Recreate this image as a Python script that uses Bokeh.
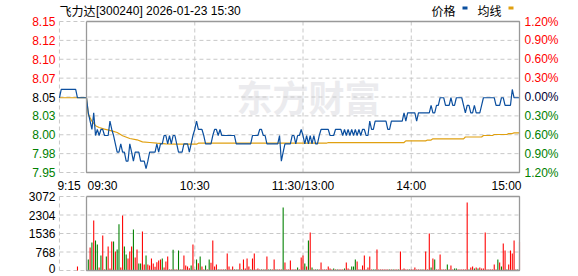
from bokeh.plotting import figure
from bokeh.models import Range1d
from bokeh.embed import file_html
from bokeh.resources import INLINE
from bokeh.core.properties import value

# ---------------- data ----------------
title_name = "飞力达"
title_rest = "[300240] 2026-01-23 15:30"
legend_labels = ["价格", "均线"]
watermark = "东方财富"

price_ticks = [8.15, 8.125, 8.10, 8.075, 8.05, 8.025, 8.00, 7.975, 7.95]
price_tick_labels = ["8.15", "8.12", "8.10", "8.07", "8.05", "8.03", "8.00", "7.98", "7.95"]
pct_tick_labels = ["1.20%", "0.90%", "0.60%", "0.30%", "0.00%", "0.30%", "0.60%", "0.90%", "1.20%"]
prev_close = 8.05

time_ticks = [-15, 0, 60, 120, 180, 240]
time_labels = ["9:15", "09:30", "10:30", "11:30/13:00", "14:00", "15:00"]

vol_ticks = [0, 768, 1536, 2304, 3072]
vol_tick_labels = ["0", "768", "1536", "2304", "3072"]

# call auction (9:15-9:30)
pre_minutes = [-15, -14, -6, -5, 0]
pre_prices = [8.049, 8.060, 8.060, 8.049, 8.049]
pre_avg_minutes = [-15, 0]
pre_avg = [8.049, 8.049]

# minute prices 09:30 (0) .. 15:00 (240)
price = [
    8.049, 8.029, 8.018, 8.007, 8.029, 7.999, 8.007, 7.999, 8.007, 8.007,
    7.999, 7.999, 7.999, 8.018, 8.007, 7.999, 7.988, 7.977, 7.977, 7.988,
    7.977, 7.977, 7.965, 7.965, 7.988, 7.977, 7.965, 7.977, 7.977, 7.977,
    7.965, 7.965, 7.965, 7.955, 7.965, 7.977, 7.977, 7.977, 7.977, 7.988,
    7.977, 7.988, 7.988, 7.999, 7.999, 7.988, 7.999, 7.988, 7.999, 7.999,
    7.988, 7.977, 7.977, 7.977, 7.988, 7.988, 7.988, 7.977, 7.988, 7.999,
    8.007, 8.018, 8.007, 8.007, 8.007, 7.999, 7.988, 7.988, 7.988, 7.988,
    7.999, 8.007, 8.007, 7.999, 8.007, 7.999, 7.999, 7.999, 7.999, 7.999,
    7.999, 7.999, 7.999, 7.988, 7.988, 7.988, 7.988, 7.988, 7.988, 7.988,
    7.988, 7.988, 7.999, 7.999, 7.999, 7.999, 8.007, 8.007, 7.999, 7.999,
    7.988, 7.988, 7.988, 7.988, 7.988, 7.988, 7.988, 7.999, 7.965, 7.977,
    7.988, 7.988, 7.988, 7.988, 7.999, 7.999, 7.988, 7.999, 7.999, 8.007,
    7.999, 7.988, 7.999, 7.988, 7.999, 7.988, 7.999, 7.988, 7.988, 7.999,
    8.007, 8.007, 8.007, 8.007, 8.007, 7.999, 7.999, 7.999, 8.007, 8.007,
    8.007, 8.007, 7.999, 8.007, 7.999, 8.007, 7.999, 8.007, 7.999, 8.007,
    7.999, 8.007, 7.999, 8.007, 8.007, 7.999, 7.999, 8.018, 8.007, 8.007,
    8.018, 8.018, 8.018, 8.018, 8.018, 8.018, 8.018, 8.007, 8.007, 8.018,
    8.018, 8.018, 8.018, 8.018, 8.018, 8.018, 8.029, 8.018, 8.029, 8.029,
    8.029, 8.029, 8.029, 8.018, 8.029, 8.029, 8.029, 8.029, 8.029, 8.029,
    8.029, 8.039, 8.029, 8.029, 8.039, 8.039, 8.049, 8.049, 8.049, 8.039,
    8.039, 8.039, 8.049, 8.039, 8.039, 8.049, 8.049, 8.049, 8.049, 8.039,
    8.029, 8.039, 8.039, 8.029, 8.029, 8.039, 8.029, 8.029, 8.029, 8.039,
    8.049, 8.049, 8.049, 8.049, 8.049, 8.049, 8.049, 8.039, 8.039, 8.039,
    8.049, 8.049, 8.039, 8.039, 8.039, 8.039, 8.060, 8.049, 8.049, 8.049,
    8.049,
]
price_minutes = list(range(0, 241))

# average price line (read at its turning points)
avg_minutes = [0, 1, 3, 5, 7, 10, 14, 17, 20, 24, 28, 31, 35, 39, 44, 50,
               61, 62, 133, 134, 176, 177, 188, 189, 191, 192, 209, 210,
               219, 220, 225, 226, 233, 234, 236, 237, 240]
avg_values = [8.049, 8.027, 8.018, 8.012, 8.0096, 8.0074, 8.0052, 8.003,
              7.9986, 7.995, 7.9933, 7.9906, 7.9897, 7.9888, 7.988, 7.9875,
              7.9875, 7.9888, 7.9888, 7.9897, 7.9897, 7.9919, 7.9919, 7.993,
              7.993, 7.9946, 7.9946, 7.997, 7.997, 7.999, 7.999, 8.0003,
              8.0003, 8.0016, 8.0016, 8.0025, 8.0025]

# volumes: auction bar and minute bars 1..240 (1 = up/red, 0 = down/green)
pre_vol_minutes = [-5]
pre_vol = [166]
pre_vol_up = [1]
vol_minutes = list(range(1, 241))
vol = [
    457, 955, 1163, 2076, 1246, 1080, 125, 623, 1453, 42,
    581, 997, 83, 1204, 1204, 789, 872, 1924, 125, 2284,
    997, 664, 498, 789, 997, 1702, 540, 872, 291, 291,
    1619, 249, 623, 249, 208, 498, 291, 152, 346, 415,
    457, 498, 125, 374, 581, 42, 42, 858, 42, 42,
    830, 42, 42, 623, 208, 166, 97, 208, 1080, 42,
    457, 304, 581, 166, 42, 208, 42, 457, 318, 1246,
    166, 249, 42, 42, 42, 42, 42, 706, 166, 42,
    166, 42, 42, 42, 291, 42, 457, 83, 498, 166,
    42, 498, 706, 42, 83, 42, 42, 42, 42, 581,
    42, 42, 42, 457, 42, 42, 42, 42, 2616, 332,
    42, 42, 415, 42, 42, 42, 125, 42, 540, 623,
    291, 166, 1246, 1578, 125, 42, 42, 42, 42, 332,
    42, 42, 42, 166, 83, 42, 83, 42, 42, 42,
    42, 42, 83, 332, 83, 42, 166, 166, 457, 374,
    42, 42, 208, 623, 42, 125, 581, 42, 42, 42,
    872, 42, 42, 42, 42, 42, 42, 42, 42, 42,
    42, 42, 42, 789, 42, 83, 42, 42, 42, 42,
    42, 125, 42, 42, 42, 42, 42, 789, 42, 1536,
    125, 498, 457, 42, 42, 664, 42, 42, 42, 249,
    42, 208, 42, 83, 83, 42, 42, 42, 42, 42,
    2823, 42, 125, 166, 83, 125, 83, 125, 83, 83,
    1578, 42, 42, 42, 42, 249, 42, 457, 332, 166,
    1121, 830, 42, 249, 830, 706, 1246, 42, 42, 1204,
]
vol_up = [
    0, 1, 0, 1, 0, 0, 1, 0, 1, 1,
    0, 1, 1, 1, 0, 1, 0, 0, 1, 1,
    0, 0, 1, 1, 1, 0, 1, 1, 0, 0,
    1, 1, 0, 1, 1, 1, 1, 1, 1, 1,
    1, 0, 1, 1, 1, 0, 1, 0, 1, 1,
    0, 1, 0, 1, 1, 1, 1, 0, 1, 1,
    0, 1, 0, 1, 1, 0, 1, 0, 1, 1,
    1, 1, 0, 1, 1, 1, 0, 1, 1, 1,
    1, 0, 1, 0, 1, 0, 1, 1, 1, 1,
    0, 1, 1, 1, 1, 1, 0, 1, 0, 1,
    0, 0, 1, 1, 0, 1, 1, 1, 0, 1,
    1, 1, 1, 1, 1, 1, 0, 1, 1, 1,
    0, 1, 0, 1, 0, 1, 0, 0, 1, 1,
    1, 1, 1, 1, 1, 1, 0, 1, 0, 1,
    1, 1, 0, 1, 1, 1, 0, 0, 0, 1,
    1, 1, 1, 1, 1, 1, 1, 1, 0, 0,
    1, 1, 1, 1, 1, 1, 1, 0, 1, 0,
    1, 1, 0, 1, 1, 1, 1, 1, 0, 1,
    1, 1, 1, 1, 1, 0, 1, 1, 1, 1,
    0, 1, 0, 1, 1, 1, 1, 1, 1, 0,
    1, 1, 1, 0, 0, 1, 1, 1, 1, 1,
    1, 0, 1, 1, 0, 1, 0, 1, 1, 1,
    1, 1, 1, 1, 1, 1, 1, 0, 1, 0,
    1, 1, 0, 1, 1, 1, 1, 1, 0, 1,
]

# ---------------- styling / geometry ----------------
W, H = 578, 276
RED = "#ff0000"
GREEN = "#008000"
BLUE = "#0b4f9f"
GOLD = "#e0a010"
GRID = "#c8c8c8"
BOX = "#999999"
FONT = "Liberation Sans"
CJK = "Noto Sans CJK SC"

# the frame covers the whole canvas; scales fixed from the reference layout
S = 433 / 240.0               # px per minute (09:30 at x=86, 15:00 at x=519)
X0 = -86 / S
X1 = (W - 86) / S
SP = 151 / 0.2                # px per price unit (8.15 at y=21, 7.95 at y=172)
Y_TOP = 8.15 + 21 / SP
Y_BOT = 8.15 - (H - 21) / SP
SV = 74 / 3072.0              # px per volume unit (3072 at y=196, 0 at y=270)
V_TOP = 3072 + 196 / SV
V_BOT = 3072 - (H - 196) / SV


def xpx(px):
    return X0 + px / S


def ypx(px):
    return Y_TOP - px / SP


p = figure(width=W, height=H, x_range=Range1d(X0, X1), y_range=Range1d(Y_BOT, Y_TOP),
           output_backend="svg", toolbar_location=None,
           x_axis_location=None, y_axis_location=None,
           min_border=0, min_border_left=0, min_border_right=0,
           min_border_top=0, min_border_bottom=0)
p.extra_y_ranges = {"vol": Range1d(V_BOT, V_TOP)}
p.grid.visible = False
p.outline_line_color = None
p.background_fill_color = "white"
p.border_fill_color = "white"


def txt(x, y, s, color="#000000", align="left", baseline="middle", font=FONT,
        size="12px", style="normal", **kw):
    p.text(x=[x], y=[y], text=[s], text_color=color, text_align=align,
           text_baseline=baseline, text_font=value(font), text_font_size=size,
           text_font_style=style, **kw)


# ---------------- price panel ----------------
txt(xpx(308), ypx(95), watermark, color="#ebebee", align="center", font=CJK,
    size="36px", style="bold")

hx0 = [time_ticks[0]] * len(price_ticks)
hx1 = [time_ticks[-1]] * len(price_ticks)
p.segment(x0=hx0, y0=price_ticks, x1=hx1, y1=price_ticks,
          line_color=GRID, line_dash="4 3", line_width=1)
vgrid = [time_ticks[0], time_ticks[2], time_ticks[3], time_ticks[4]]
p.segment(x0=vgrid, y0=[price_ticks[-1]] * 4, x1=vgrid, y1=[price_ticks[0]] * 4,
          line_color=GRID, line_dash="4 3", line_width=1)

p.line(pre_avg_minutes, pre_avg, line_color=GOLD, line_width=1.2)
p.line(pre_minutes, pre_prices, line_color=BLUE, line_width=1.2)
p.line(avg_minutes, avg_values, line_color=GOLD, line_width=1.2)
p.line(price_minutes, price, line_color=BLUE, line_width=1.2)

bx = [time_ticks[1], time_ticks[-1], time_ticks[-1], time_ticks[1], time_ticks[1]]
by = [price_ticks[0], price_ticks[0], price_ticks[-1], price_ticks[-1], price_ticks[0]]
p.line(bx, by, line_color=BOX, line_width=1.3)

for t, lab in zip(price_ticks, price_tick_labels):
    col = RED if t > prev_close else ("#000000" if t == prev_close else GREEN)
    txt(xpx(55), t, lab, color=col, align="right")
for t, lab in zip(price_ticks, pct_tick_labels):
    col = RED if t > prev_close else ("#000033" if t == prev_close else GREEN)
    txt(xpx(524), t, lab, color=col, align="left")

aligns = ["left", "left", "center", "center", "center", "right"]
offsets = [-2, 1, 0, 0, 0, 2]
for t, lab, al, off in zip(time_ticks, time_labels, aligns, offsets):
    txt(t + off / S, ypx(185), lab, align=al, baseline="alphabetic")

txt(xpx(59), ypx(10), title_name, font=CJK)
txt(xpx(95.5), ypx(10), title_rest, font=FONT)
txt(xpx(431), ypx(10), legend_labels[0], font=CJK)
txt(xpx(477), ypx(10), legend_labels[1], font=CJK)
p.rect(x=[xpx(464.5), xpx(510.5)], y=[ypx(7.5), ypx(7.5)], width=5 / S, height=3 / SP,
       fill_color=[BLUE, GOLD], line_color=None)

# ---------------- volume panel ----------------
vx0 = [time_ticks[0]] * len(vol_ticks)
vx1 = [time_ticks[-1]] * len(vol_ticks)
p.segment(x0=vx0, y0=vol_ticks, x1=vx1, y1=vol_ticks, y_range_name="vol",
          line_color=GRID, line_dash="4 3", line_width=1)
p.segment(x0=vgrid, y0=[vol_ticks[0]] * 4, x1=vgrid, y1=[vol_ticks[-1]] * 4,
          y_range_name="vol", line_color=GRID, line_dash="4 3", line_width=1)

all_x = pre_vol_minutes + vol_minutes
all_v = pre_vol + vol
all_c = [RED if u else GREEN for u in pre_vol_up + vol_up]
p.vbar(x=all_x, top=all_v, bottom=0, width=0.6, fill_color=all_c, line_color=None,
       y_range_name="vol")

bvy = [vol_ticks[-1], vol_ticks[-1], vol_ticks[0], vol_ticks[0], vol_ticks[-1]]
p.line(bx, bvy, line_color=BOX, line_width=1.3, y_range_name="vol")

# tick labels of the volume axis; the lowest one is lifted a little to stay on the canvas
vol_label_y = [t for t in vol_ticks]
vol_label_y[0] = vol_ticks[0] + 2.5 / SV
for t, lab in zip(vol_label_y, vol_tick_labels):
    p.text(x=[xpx(55)], y=[t], text=[lab], text_color="#000000", text_align="right",
           text_baseline="middle", text_font=value(FONT), text_font_size="12px",
           y_range_name="vol")

open("out.html", "w").write(file_html(p, INLINE))
